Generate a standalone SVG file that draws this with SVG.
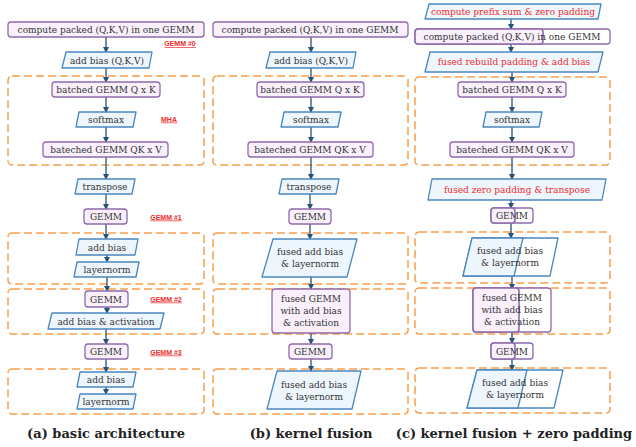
<svg xmlns="http://www.w3.org/2000/svg" width="636" height="447" viewBox="0 0 636 447">
<defs>
<marker id="ah" markerWidth="6" markerHeight="6" refX="5" refY="3" orient="auto" markerUnits="userSpaceOnUse">
<path d="M0,0 L6,3 L0,6 z" fill="#275177"/>
</marker>
<style>
.p{fill:#f9f0fc;stroke:#8e6aab;stroke-width:1.3}
.pw{fill:#ffffff;stroke:#8e6aab;stroke-width:1.3}
.b{fill:#eef6fd;stroke:#4b86bf;stroke-width:1.3;stroke-linejoin:round}
.bw{fill:#ffffff;stroke:#4b86bf;stroke-width:1.3;stroke-linejoin:round}
.g{fill:none;stroke:#f6a04d;stroke-width:1.5;stroke-dasharray:8 4}
.c line{stroke:#275177;stroke-width:1.3;marker-end:url(#ah)}
text{font-family:"DejaVu Serif","Liberation Serif",serif;font-size:9px;fill:#333;text-anchor:middle}
.r{fill:#ee2b2b}
.lab{font-family:"Liberation Sans",Arial,sans-serif;font-size:7px;font-weight:bold;fill:#ee2b2b;text-decoration:underline}
.cap{font-family:"DejaVu Serif","Liberation Serif",serif;font-size:13px;font-weight:bold;fill:#222}
</style>
</defs>
<rect width="636" height="447" fill="#ffffff"/>

<!-- group boxes -->
<g id="groups">
<rect class="g" x="8" y="76" width="196" height="89" rx="4"/>
<rect class="g" x="8" y="233" width="196" height="51" rx="4"/>
<rect class="g" x="8" y="289" width="196" height="45" rx="4"/>
<rect class="g" x="8" y="369" width="196" height="45" rx="4"/>
<rect class="g" x="213" y="76" width="195" height="89" rx="4"/>
<rect class="g" x="213" y="233" width="195" height="51" rx="4"/>
<rect class="g" x="213" y="289" width="195" height="45" rx="4"/>
<rect class="g" x="213" y="369" width="195" height="45" rx="4"/>
<rect class="g" x="415" y="77" width="195" height="88" rx="4"/>
<rect class="g" x="415" y="232" width="195" height="51" rx="4"/>
<rect class="g" x="415" y="288" width="195" height="46" rx="4"/>
<rect class="g" x="415" y="368" width="195" height="45" rx="4"/>
</g>

<!-- connectors -->
<g id="connectors" class="c">
<line x1="106" y1="37" x2="106" y2="52"/>
<line x1="106" y1="68" x2="106" y2="82"/>
<line x1="106" y1="97" x2="106" y2="112"/>
<line x1="106" y1="127" x2="106" y2="142"/>
<line x1="106" y1="157" x2="106" y2="179"/>
<line x1="106" y1="194" x2="106" y2="209"/>
<line x1="106" y1="224" x2="106" y2="239"/>
<line x1="107" y1="255" x2="107" y2="262"/>
<line x1="107" y1="277" x2="107" y2="291"/>
<line x1="107" y1="307" x2="107" y2="313"/>
<line x1="106" y1="329" x2="106" y2="344"/>
<line x1="106" y1="359" x2="106" y2="372"/>
<line x1="106" y1="387" x2="106" y2="394"/>

<line x1="311" y1="37" x2="311" y2="52"/>
<line x1="311" y1="68" x2="311" y2="82"/>
<line x1="311" y1="97" x2="311" y2="112"/>
<line x1="311" y1="127" x2="311" y2="142"/>
<line x1="311" y1="157" x2="311" y2="179"/>
<line x1="310" y1="194" x2="310" y2="209"/>
<line x1="310" y1="224" x2="310" y2="239"/>
<line x1="311" y1="277" x2="311" y2="289"/>
<line x1="311" y1="333" x2="311" y2="344"/>
<line x1="311" y1="359" x2="311" y2="371"/>

<line x1="511" y1="19" x2="511" y2="29"/>
<line x1="511" y1="44" x2="511" y2="52"/>
<line x1="512" y1="72" x2="512" y2="82"/>
<line x1="512" y1="97" x2="512" y2="112"/>
<line x1="512" y1="127" x2="512" y2="142"/>
<line x1="512" y1="157" x2="512" y2="179"/>
<line x1="511" y1="200" x2="511" y2="208"/>
<line x1="511" y1="223" x2="511" y2="238"/>
<line x1="512" y1="276" x2="512" y2="289"/>
<line x1="512" y1="332" x2="512" y2="343"/>
<line x1="512" y1="359" x2="512" y2="370"/>
</g>

<!-- column a -->
<g id="a-qkv"><rect class="p" x="8" y="22" width="196" height="15" rx="3"/><text x="106" y="33">compute packed (Q,K,V) in one GEMM</text></g>
<g id="a-lab0"><text class="lab" x="180" y="46">GEMM #0</text></g>
<g id="a-bias"><polygon class="b" points="66,52 152,52 149,68 62,68"/><text x="107" y="63.5">add bias (Q,K,V)</text></g>
<g id="a-qk"><rect class="p" x="52" y="82" width="108" height="15" rx="3"/><text x="106" y="93">batched GEMM Q x K</text></g>
<g id="a-soft"><polygon class="b" points="79,112 136,112 133,127 76,127"/><text x="106" y="123">softmax</text></g>
<g id="a-mha"><text class="lab" x="169" y="121.5">MHA</text></g>
<g id="a-qkv2"><rect class="p" x="43" y="142" width="125" height="15" rx="3"/><text x="106" y="153">bateched GEMM QK x V</text></g>
<g id="a-trans"><polygon class="b" points="78,179 135,179 132,194 75,194"/><text x="105" y="190">transpose</text></g>
<g id="a-gemm1"><rect class="p" x="84" y="209" width="43" height="15" rx="3"/><text x="106" y="220">GEMM</text></g>
<g id="a-lab1"><text class="lab" x="166" y="219.5">GEMM #1</text></g>
<g id="a-bias1"><polygon class="b" points="79,239 138,239 135,255 76,255"/><text x="107" y="250.5">add bias</text></g>
<g id="a-ln1"><polygon class="b" points="77,262 139,262 136,277 74,277"/><text x="107" y="273">layernorm</text></g>
<g id="a-gemm2"><rect class="p" x="85" y="291" width="43" height="16" rx="3"/><text x="106" y="302.5">GEMM</text></g>
<g id="a-lab2"><text class="lab" x="166" y="301.5">GEMM #2</text></g>
<g id="a-act"><polygon class="b" points="52,313 164,313 160,329 48,329"/><text x="106" y="324.5">add bias &amp; activation</text></g>
<g id="a-gemm3"><rect class="p" x="85" y="344" width="43" height="15" rx="3"/><text x="106" y="355">GEMM</text></g>
<g id="a-lab3"><text class="lab" x="166" y="354.5">GEMM #3</text></g>
<g id="a-bias3"><polygon class="b" points="80,372 136,372 133,387 77,387"/><text x="106" y="383">add bias</text></g>
<g id="a-ln3"><polygon class="b" points="80,394 136,394 133,409 77,409"/><text x="106" y="405">layernorm</text></g>

<!-- column b -->
<g id="b-qkv"><rect class="p" x="213" y="22" width="195" height="15" rx="3"/><text x="310" y="33">compute packed (Q,K,V) in one GEMM</text></g>
<g id="b-bias"><polygon class="b" points="270,52 356,52 353,68 266,68"/><text x="311" y="63.5">add bias (Q,K,V)</text></g>
<g id="b-qk"><rect class="p" x="257" y="82" width="107" height="15" rx="3"/><text x="310" y="93">batched GEMM Q x K</text></g>
<g id="b-soft"><polygon class="b" points="284,112 341,112 338,127 281,127"/><text x="311" y="123">softmax</text></g>
<g id="b-qkv2"><rect class="p" x="248" y="142" width="125" height="15" rx="3"/><text x="310" y="153">bateched GEMM QK x V</text></g>
<g id="b-trans"><polygon class="b" points="282,179 339,179 336,194 279,194"/><text x="309" y="190">transpose</text></g>
<g id="b-gemm1"><rect class="p" x="289" y="209" width="42" height="15" rx="3"/><text x="310" y="220">GEMM</text></g>
<g id="b-ln1"><polygon class="b" points="273,239 357,239 347,277 262,277"/><text x="310" y="255">fused add bias</text><text x="310" y="267">&amp; layernorm</text></g>
<g id="b-gemm2"><rect class="p" x="272" y="289" width="78" height="44" rx="3"/><text x="311" y="302">fused GEMM</text><text x="311" y="314">with add bias</text><text x="311" y="326">&amp; activation</text></g>
<g id="b-gemm3"><rect class="p" x="289" y="344" width="43" height="15" rx="3"/><text x="310" y="355">GEMM</text></g>
<g id="b-ln3"><polygon class="b" points="277,371 361,371 352,409 267,409"/><text x="314" y="388">fused add bias</text><text x="314" y="400">&amp; layernorm</text></g>

<!-- column c -->
<g id="c-prefix"><polygon class="b" points="429,4 601,4 598,19 425,19"/><text class="r" x="513" y="15">compute prefix sum &amp; zero padding</text></g>
<g id="c-qkv"><rect class="pw" x="415" y="29" width="195" height="15" rx="3"/><rect class="p" x="415" y="29" width="128" height="15" rx="3" style="stroke-width:1.6"/><text x="512" y="40">compute packed (Q,K,V) in one GEMM</text></g>
<g id="c-rebuild"><polygon class="b" points="430,52 603,52 598,72 425,72"/><text class="r" x="514" y="65">fused rebuild padding &amp; add bias</text></g>
<g id="c-qk"><rect class="p" x="458" y="82" width="108" height="15" rx="3"/><text x="512" y="93">batched GEMM Q x K</text></g>
<g id="c-soft"><polygon class="b" points="486,112 542,112 539,127 483,127"/><text x="512" y="123">softmax</text></g>
<g id="c-qkv2"><rect class="p" x="450" y="142" width="124" height="15" rx="3"/><text x="512" y="153">bateched GEMM QK x V</text></g>
<g id="c-trans"><polygon class="b" points="432,179 606,179 602,200 428,200"/><text class="r" x="517" y="193">fused zero padding &amp; transpose</text></g>
<g id="c-gemm1"><rect class="pw" x="491" y="208" width="42" height="15" rx="3"/><rect class="p" x="491" y="208" width="24" height="15" rx="3" style="stroke-width:1.6"/><text x="512" y="219">GEMM</text></g>
<g id="c-ln1"><polygon class="bw" points="472,238 558,238 550,276 463,276"/><polygon class="b" points="472,238 523,238 514,276 463,276"/><text x="510" y="254">fused add bias</text><text x="510" y="266">&amp; layernorm</text></g>
<g id="c-gemm2"><rect class="pw" x="473" y="288" width="78" height="44" rx="3"/><rect class="p" x="473" y="288" width="46" height="44" rx="3" style="stroke-width:1.6"/><text x="512" y="301">fused GEMM</text><text x="512" y="313">with add bias</text><text x="512" y="325">&amp; activation</text></g>
<g id="c-gemm3"><rect class="pw" x="491" y="343" width="42" height="16" rx="3"/><rect class="p" x="491" y="343" width="24" height="16" rx="3" style="stroke-width:1.6"/><text x="512" y="354.5">GEMM</text></g>
<g id="c-ln3"><polygon class="bw" points="477,370 563,370 554,408 467,408"/><polygon class="b" points="477,370 527,370 518,408 467,408"/><text x="515" y="386">fused add bias</text><text x="515" y="398">&amp; layernorm</text></g>

<!-- captions -->
<g id="captions">
<text class="cap" x="106" y="438">(a) basic architecture</text>
<text class="cap" x="311" y="438">(b) kernel fusion</text>
<text class="cap" x="514" y="438">(c) kernel fusion + zero padding</text>
</g>
</svg>
